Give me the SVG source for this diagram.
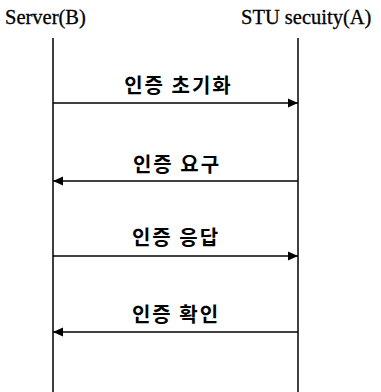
<svg xmlns="http://www.w3.org/2000/svg" width="381" height="392" viewBox="0 0 381 392">
  <style>
    .actor { font-family: "Liberation Serif", "Times New Roman", serif; font-size: 20.5px; fill: #000; stroke: #000; stroke-width: 0.3; }
    .life { stroke: #000; stroke-width: 1.5; fill: none; }
    .msg { stroke: #000; stroke-width: 1.5; fill: none; }
    .lbl { font-family: "Noto Sans CJK KR", sans-serif; font-size: 20px; font-weight: bold; fill: #000; text-anchor: middle; letter-spacing: 2px; }
  </style>
  <defs>
    <!-- filled triangular arrowhead shared by all messages -->
    <marker id="head" viewBox="0 0 10 10" refX="10" refY="5" markerWidth="10" markerHeight="10" markerUnits="userSpaceOnUse" orient="auto">
      <path d="M0,0.5 L10,5 L0,9.5 Z" fill="#000"/>
    </marker>
  </defs>

  <g id="server">
    <text class="actor" x="5" y="24">Server(B)</text>
    <line class="life" x1="53" y1="38" x2="53" y2="392"/>
  </g>
  <g id="stu">
    <text class="actor" x="241" y="24">STU secuity(A)</text>
    <line class="life" x1="298" y1="38" x2="298" y2="392"/>
  </g>

  <g id="connectors">
    <line class="msg" x1="53" y1="103" x2="298" y2="103" marker-end="url(#head)"/>
    <text class="lbl" x="178.5" y="93">인증 초기화</text>

    <line class="msg" x1="298" y1="181" x2="53" y2="181" marker-end="url(#head)"/>
    <text class="lbl" x="177" y="172">인증 요구</text>

    <line class="msg" x1="53" y1="256" x2="298" y2="256" marker-end="url(#head)"/>
    <text class="lbl" x="176" y="245">인증 응답</text>

    <line class="msg" x1="298" y1="332" x2="53" y2="332" marker-end="url(#head)"/>
    <text class="lbl" x="176" y="322">인증 확인</text>
  </g>
</svg>
